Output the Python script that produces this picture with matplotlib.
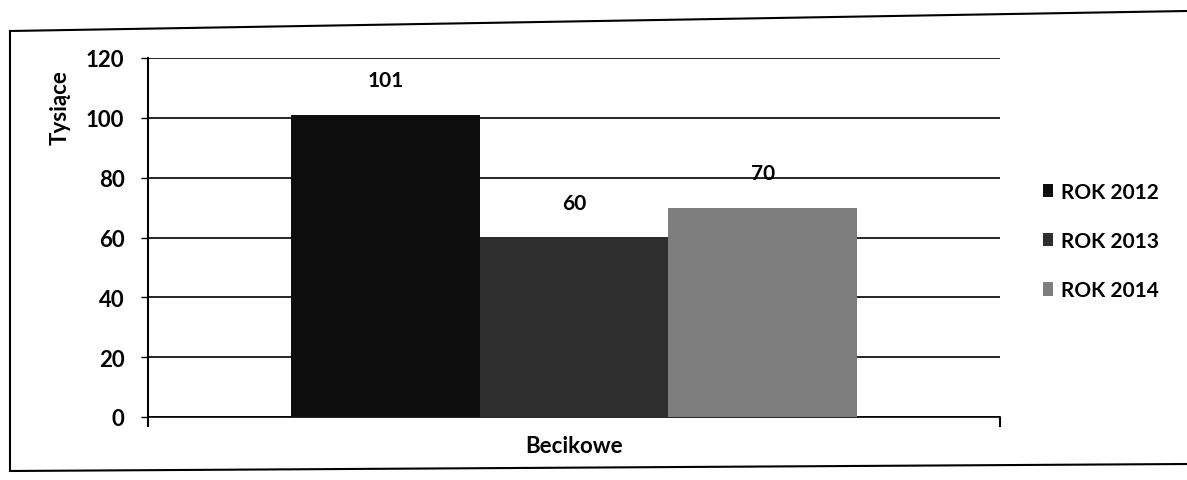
import numpy as np
import matplotlib.pyplot as plt
from matplotlib.lines import Line2D

# dane z wykresu
kategoria = ["Becikowe"]
lata = ["ROK 2012", "ROK 2013", "ROK 2014"]
wartosci = [101, 60, 70]
kolory = ["#0e0e0e", "#2e2e2e", "#7e7e7e"]
yticks = [0, 20, 40, 60, 80, 100, 120]

plt.rcParams['font.family'] = ['Lato', 'DejaVu Sans']

fig = plt.figure(figsize=(11.87, 4.81), dpi=100)
ax = fig.add_axes([148/1187, 1 - 418/481, 852/1187, 359/481])

szer = 0.664 / 3
x0 = np.arange(len(kategoria))
for i in range(len(lata)):
    pos = x0 - szer + i * szer
    ax.bar(pos, [wartosci[i]], width=szer, color=kolory[i], label=lata[i], zorder=3)
    ax.text(pos[0], wartosci[i] + 11.5, str(wartosci[i]), ha='center', va='center',
            fontsize=15, fontweight='bold', zorder=4)

ax.set_xlim(-0.5, 0.5)
ax.set_ylim(0, 120)
ax.set_yticks(yticks)
ax.yaxis.grid(True, color='black', linewidth=1.2, zorder=0)
ax.set_xticks([-0.5, 0.5], minor=True)
ax.set_xticks([0])
ax.set_xticklabels(kategoria, fontsize=16, fontweight='bold')
ax.tick_params(axis='x', which='major', length=0, pad=13)
ax.tick_params(axis='x', which='minor', length=7, width=1.5, color='black')
ax.tick_params(axis='y', length=5, width=1, labelsize=16, pad=12)
for lab in ax.get_yticklabels():
    lab.set_fontweight('bold')
for s in ['top', 'right']:
    ax.spines[s].set_visible(False)
ax.spines['left'].set_linewidth(1.5)
ax.spines['bottom'].set_linewidth(1.2)

ax.text(-0.103, 0.864, "Tysiące", transform=ax.transAxes, rotation=90,
        ha='center', va='center', fontsize=16, fontweight='bold')

leg = ax.legend(loc='center left', bbox_to_anchor=(1.028, 0.49), frameon=False,
                fontsize=15, handlelength=0.5, handleheight=0.6, handletextpad=0.4,
                labelspacing=1.4)
for t in leg.get_texts():
    t.set_fontweight('bold')

# ramka wokół wykresu (skan)
fig.add_artist(Line2D([10/1187, 10/1187], [1 - 470/481, 1 - 32/481],
                      transform=fig.transFigure, color='black', lw=1.5))
fig.add_artist(Line2D([10/1187, 1.0], [1 - 32/481, 1 - 12/481],
                      transform=fig.transFigure, color='black', lw=1.5))
fig.add_artist(Line2D([10/1187, 1.0], [1 - 472/481, 1 - 465/481],
                      transform=fig.transFigure, color='black', lw=1.5))

fig.savefig("out.png", dpi=100)
